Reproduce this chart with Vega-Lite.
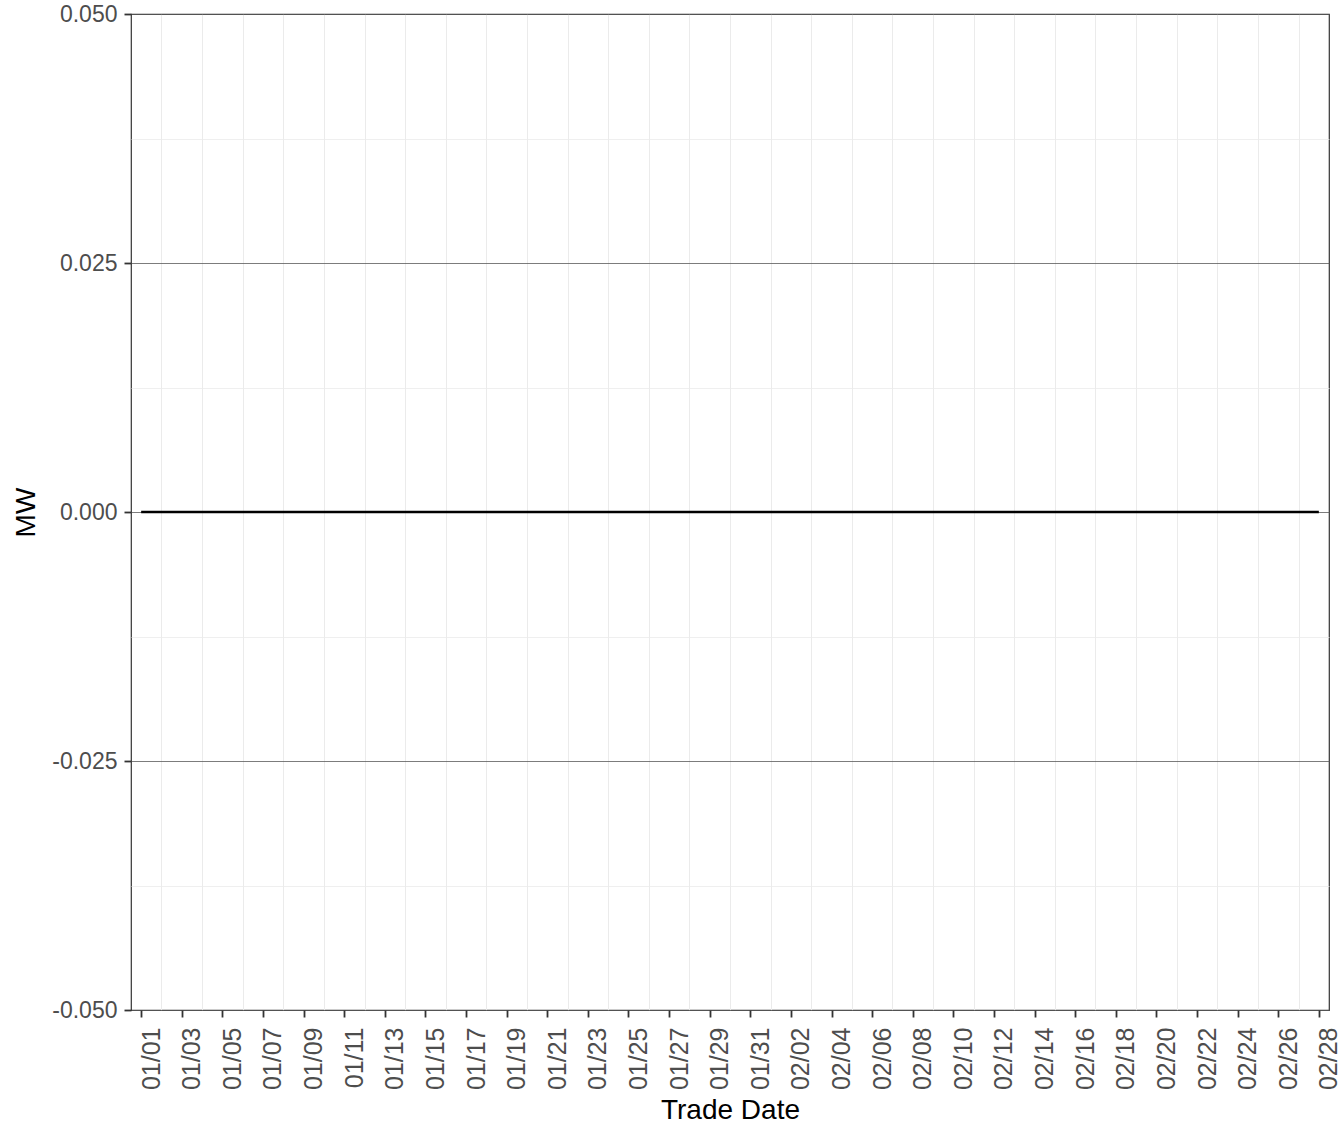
{
  "$schema": "https://vega.github.io/schema/vega-lite/v6.json",
  "autosize": {"type": "none"},
  "width": 1198,
  "height": 996,
  "padding": {"left": 131, "top": 14, "right": 15, "bottom": 132},
  "background": "white",
  "config": {
    "font": "Liberation Sans",
    "view": {"stroke": "#333333", "strokeWidth": 1.2}
  },
  "data": {
    "values": [
      {"date": "2023-01-01", "mw": 0}, {"date": "2023-01-02", "mw": 0}, {"date": "2023-01-03", "mw": 0},
      {"date": "2023-01-04", "mw": 0}, {"date": "2023-01-05", "mw": 0}, {"date": "2023-01-06", "mw": 0},
      {"date": "2023-01-07", "mw": 0}, {"date": "2023-01-08", "mw": 0}, {"date": "2023-01-09", "mw": 0},
      {"date": "2023-01-10", "mw": 0}, {"date": "2023-01-11", "mw": 0}, {"date": "2023-01-12", "mw": 0},
      {"date": "2023-01-13", "mw": 0}, {"date": "2023-01-14", "mw": 0}, {"date": "2023-01-15", "mw": 0},
      {"date": "2023-01-16", "mw": 0}, {"date": "2023-01-17", "mw": 0}, {"date": "2023-01-18", "mw": 0},
      {"date": "2023-01-19", "mw": 0}, {"date": "2023-01-20", "mw": 0}, {"date": "2023-01-21", "mw": 0},
      {"date": "2023-01-22", "mw": 0}, {"date": "2023-01-23", "mw": 0}, {"date": "2023-01-24", "mw": 0},
      {"date": "2023-01-25", "mw": 0}, {"date": "2023-01-26", "mw": 0}, {"date": "2023-01-27", "mw": 0},
      {"date": "2023-01-28", "mw": 0}, {"date": "2023-01-29", "mw": 0}, {"date": "2023-01-30", "mw": 0},
      {"date": "2023-01-31", "mw": 0}, {"date": "2023-02-01", "mw": 0}, {"date": "2023-02-02", "mw": 0},
      {"date": "2023-02-03", "mw": 0}, {"date": "2023-02-04", "mw": 0}, {"date": "2023-02-05", "mw": 0},
      {"date": "2023-02-06", "mw": 0}, {"date": "2023-02-07", "mw": 0}, {"date": "2023-02-08", "mw": 0},
      {"date": "2023-02-09", "mw": 0}, {"date": "2023-02-10", "mw": 0}, {"date": "2023-02-11", "mw": 0},
      {"date": "2023-02-12", "mw": 0}, {"date": "2023-02-13", "mw": 0}, {"date": "2023-02-14", "mw": 0},
      {"date": "2023-02-15", "mw": 0}, {"date": "2023-02-16", "mw": 0}, {"date": "2023-02-17", "mw": 0},
      {"date": "2023-02-18", "mw": 0}, {"date": "2023-02-19", "mw": 0}, {"date": "2023-02-20", "mw": 0},
      {"date": "2023-02-21", "mw": 0}, {"date": "2023-02-22", "mw": 0}, {"date": "2023-02-23", "mw": 0},
      {"date": "2023-02-24", "mw": 0}, {"date": "2023-02-25", "mw": 0}, {"date": "2023-02-26", "mw": 0},
      {"date": "2023-02-27", "mw": 0}, {"date": "2023-02-28", "mw": 0}
    ]
  },
  "mark": {"type": "line", "color": "black", "strokeWidth": 2.4, "clip": true},
  "encoding": {
    "x": {
      "field": "date",
      "type": "temporal",
      "title": "Trade Date",
      "scale": {"type": "utc", "domain": [1672488000000, 1677585600000], "nice": false},
      "axis": {
        "values": [
          1672531200000, 1672617600000, 1672704000000, 1672790400000, 1672876800000, 1672963200000,
          1673049600000, 1673136000000, 1673222400000, 1673308800000, 1673395200000, 1673481600000,
          1673568000000, 1673654400000, 1673740800000, 1673827200000, 1673913600000, 1674000000000,
          1674086400000, 1674172800000, 1674259200000, 1674345600000, 1674432000000, 1674518400000,
          1674604800000, 1674691200000, 1674777600000, 1674864000000, 1674950400000, 1675036800000,
          1675123200000, 1675209600000, 1675296000000, 1675382400000, 1675468800000, 1675555200000,
          1675641600000, 1675728000000, 1675814400000, 1675900800000, 1675987200000, 1676073600000,
          1676160000000, 1676246400000, 1676332800000, 1676419200000, 1676505600000, 1676592000000,
          1676678400000, 1676764800000, 1676851200000, 1676937600000, 1677024000000, 1677110400000,
          1677196800000, 1677283200000, 1677369600000, 1677456000000, 1677542400000
        ],
        "labelExpr": "round((datum.value - 1672531200000) / 86400000) % 2 == 0 ? utcFormat(datum.value, '%m/%d') : ''",
        "labelAngle": 270,
        "labelAlign": "right",
        "labelBaseline": "middle",
        "labelOffset": 10,
        "labelFontSize": 25,
        "labelColor": "#4d4d4d",
        "labelPadding": 10,
        "labelOverlap": false,
        "labelBound": false,
        "labelFlush": false,
        "domain": false,
        "tickColor": "#333333",
        "tickWidth": 1.8,
        "tickSize": 7,
        "tickOpacity": {"condition": {"test": "round((datum.value - 1672531200000) / 86400000) % 2 == 0", "value": 1}, "value": 0},
        "grid": true,
        "gridColor": {"condition": {"test": "round((datum.value - 1672531200000) / 86400000) % 2 == 0", "value": "transparent"}, "value": "#ebebeb"},
        "gridWidth": 1,
        "titleFontSize": 28,
        "titleFontWeight": "normal",
        "titleColor": "black",
        "titlePadding": 7
      }
    },
    "y": {
      "field": "mw",
      "type": "quantitative",
      "title": "MW",
      "scale": {"domain": [-0.05, 0.05], "nice": false, "zero": false},
      "axis": {
        "values": [-0.05, -0.0375, -0.025, -0.0125, 0, 0.0125, 0.025, 0.0375, 0.05],
        "labelExpr": "abs(round(datum.value * 10000)) % 250 == 0 ? replace(format(datum.value, '.3f'), '\u2212', '-') : ''",
        "labelFontSize": 23,
        "labelColor": "#4d4d4d",
        "labelPadding": 7,
        "labelFlush": false,
        "labelBound": false,
        "labelOverlap": false,
        "domain": false,
        "tickColor": "#333333",
        "tickWidth": 1.8,
        "tickSize": 7,
        "tickOpacity": {"condition": {"test": "abs(round(datum.value * 10000)) % 250 == 0", "value": 1}, "value": 0},
        "grid": true,
        "gridColor": {"condition": {"test": "abs(round(datum.value * 10000)) % 250 == 0", "value": "#5a5a5a"}, "value": "#ebebeb"},
        "gridWidth": 0.8,
        "titleFontSize": 28,
        "titleFontWeight": "normal",
        "titleColor": "black",
        "titlePadding": 11
      }
    }
  }
}
